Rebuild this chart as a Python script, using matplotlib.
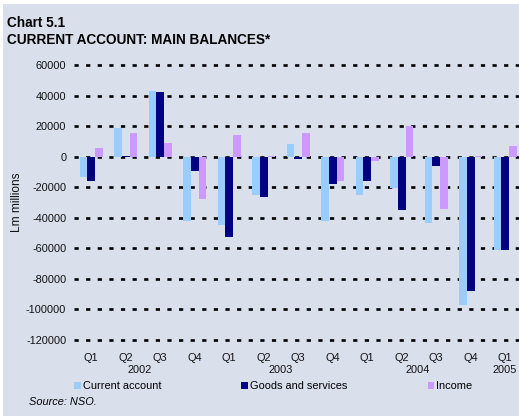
import numpy as np
import matplotlib
matplotlib.use('Agg')
import matplotlib.pyplot as plt
from matplotlib.patches import Rectangle

quarters = ['Q1', 'Q2', 'Q3', 'Q4', 'Q1', 'Q2', 'Q3', 'Q4', 'Q1', 'Q2', 'Q3', 'Q4', 'Q1']
years = ['2002', '2003', '2004', '2005']
year_pos = [1.4, 5.5, 9.45, 12]
current_account = [-13500, 19000, 43300, -42300, -44900, -25300, 8500, -42300,
                   -25300, -20700, -43600, -97200, -60800]
goods_services = [-15500, 700, 42500, -9000, -52700, -26000, -1700, -18100,
                  -16100, -35000, -5700, -87600, -61200]
income = [5900, 15700, 9200, -27900, 14400, 700, 15700, -15500,
          -2400, 20300, -34400, 400, 7200]

bg = '#d9e0ec'
plt.rcParams['font.family'] = ['Liberation Sans', 'DejaVu Sans']
plt.rcParams['axes.unicode_minus'] = False
fs = 7.9

fig = plt.figure(figsize=(5.19, 4.16), dpi=100, facecolor='white')
# panel background with thin white margin at top and left
fig.add_artist(Rectangle((3 / 519, 0), 1, 1 - 4 / 416, transform=fig.transFigure,
                         facecolor=bg, edgecolor='none', zorder=0))
ax = fig.add_axes([0.1426, 0.1772, 0.864, 0.6714])
ax.set_facecolor(bg)

x = np.arange(len(quarters))
w = 0.222
ax.bar(x - w, current_account, w, color='#99ccff', label='Current account', zorder=3)
ax.bar(x, goods_services, w, color='#000080', label='Goods and services', zorder=3)
ax.bar(x + w, income, w, color='#cc99ff', label='Income', zorder=3)

ax.set_xlim(-0.5, 12.5)
ax.set_ylim(-121500, 61500)
ax.set_yticks(range(-120000, 60001, 20000))
ax.set_xticks(x, quarters)
ax.tick_params(length=0, labelsize=fs, colors='#111111')
ax.tick_params(axis='y', pad=5.5)
ax.tick_params(axis='x', pad=8)
ax.grid(axis='y', color='black', linewidth=1.9, linestyle=(0, (1.6, 2.8)), zorder=1)
for s in ax.spines.values():
    s.set_visible(False)

for yr, p in zip(years, year_pos):
    ax.text(p, -0.099, yr, transform=ax.get_xaxis_transform(), ha='center', va='center',
            fontsize=fs, color='#111111')

fig.text(17 / 519, 1 - 202 / 416, 'Lm millions', rotation=90, ha='center', va='center',
         fontsize=8.6, color='#111111')

fig.text(7 / 519, 1 - 27 / 416, 'Chart 5.1', fontsize=9.8, fontweight='bold', va='baseline')
fig.text(7 / 519, 1 - 43.5 / 416, 'CURRENT ACCOUNT: MAIN BALANCES*', fontsize=9.8,
         fontweight='bold', va='baseline')

fig.legend(loc='center left', bbox_to_anchor=(74 / 519, 1 - 386 / 416), ncol=3,
           frameon=False, fontsize=fs, handlelength=0.6, handleheight=0.6,
           handletextpad=0.2, columnspacing=7.3, borderpad=0, borderaxespad=0)

fig.text(29 / 519, 1 - 402 / 416, 'Source: NSO.', fontsize=fs, style='italic', va='center')

fig.savefig('out.png', dpi=100, facecolor='white')
